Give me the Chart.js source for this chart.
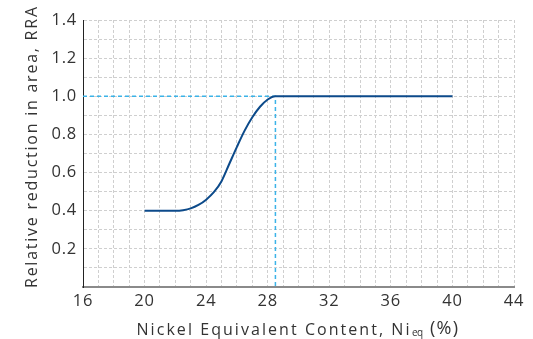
<!DOCTYPE html>
<html>
<head>
<meta charset="utf-8">
<script src="https://cdn.jsdelivr.net/npm/chart.js@4"></script>
<style>
html,body{margin:0;padding:0;background:#fff;}
#wrap{width:533px;height:339px;position:relative;}
</style>
</head>
<body>
<div id="wrap"><canvas id="c" width="533" height="339"></canvas></div>
<script>
// Data
const niEq = [20, 22, 22.5, 23, 23.5, 24, 24.5, 25, 25.5, 26, 26.5, 27, 27.5, 28, 28.5, 40];
const rra  = [0.40, 0.40, 0.403, 0.412, 0.43, 0.458, 0.497, 0.555, 0.645, 0.735, 0.82, 0.89, 0.945, 0.983, 1.0, 1.0];
const refX = [16, 28.5, 28.5];
const refY = [1.0, 1.0, 0.0];
const xTickLabels = [16, 20, 24, 28, 32, 36, 40, 44];
const yTickLabels = [0.2, 0.4, 0.6, 0.8, 1.0, 1.2, 1.4];
const yTitle = "Relative reduction in area, RRA";
const xTitleMain = "Nickel Equivalent Content, Ni";
const xTitleSub = "eq";
const xTitleEnd = "(%)";

const FONT = "'Open Sans', 'Noto Sans', sans-serif";
const TXT = "#333333";

function drawFit(ctx, text, x, y, font, targetW) {
  ctx.font = font;
  ctx.letterSpacing = '0px';
  const w = ctx.measureText(text).width;
  const n = Math.max(1, text.length - 1);
  const sp = (targetW - w) / n;
  ctx.letterSpacing = sp + 'px';
  ctx.fillText(text, x, y);
  ctx.letterSpacing = '0px';
}

const titlePlugin = {
  id: 'titles',
  beforeDraw(chart) {
    chart.ctx.letterSpacing = '0.8px';
  },
  afterDraw(chart) {
    const ctx = chart.ctx;
    ctx.save();
    ctx.fillStyle = TXT;
    ctx.textBaseline = 'alphabetic';
    ctx.textAlign = 'left';
    // y title (rotated): spans y 288 -> 7, baseline at x 37
    ctx.translate(37, 288);
    ctx.rotate(-Math.PI / 2);
    drawFit(ctx, yTitle, 0, 0, "16px " + FONT, 281);
    ctx.restore();

    // x title with subscript
    ctx.save();
    ctx.fillStyle = TXT;
    ctx.textBaseline = 'alphabetic';
    ctx.textAlign = 'left';
    const base = 335;
    drawFit(ctx, xTitleMain, 136.5, base, "16px " + FONT, 273);
    drawFit(ctx, xTitleSub, 412, base + 1, "10px " + FONT, 11);
    drawFit(ctx, xTitleEnd, 430, base - 1, "18px " + FONT, 28);
    ctx.restore();
  }
};

new Chart(document.getElementById('c'), {
  type: 'scatter',
  data: {
    datasets: [
      {
        data: niEq.map((x, i) => ({x: x, y: rra[i]})),
        showLine: true,
        borderColor: '#0c4a8a',
        borderWidth: 2,
        pointRadius: 0,
        cubicInterpolationMode: 'monotone',
        order: 1
      },
      {
        data: refX.map((x, i) => ({x: x, y: refY[i]})),
        showLine: true,
        borderColor: '#3bb3e8',
        borderWidth: 1.5,
        borderDash: [4, 3],
        pointRadius: 0,
        tension: 0,
        order: 2
      }
    ]
  },
  options: {
    responsive: false,
    animation: false,
    events: [],
    layout: { padding: { left: 0, right: 19, top: 20, bottom: 0 } },
    plugins: { legend: { display: false }, tooltip: { enabled: false } },
    scales: {
      x: {
        type: 'linear',
        min: 16, max: 44,
        afterFit(s) { s.height = 52; },
        ticks: {
          stepSize: 1,
          autoSkip: false,
          maxRotation: 0,
          color: TXT,
          font: { family: FONT, size: 16.5 },
          padding: 4,
          callback: (v) => xTickLabels.includes(v) ? String(v) : ''
        },
        grid: {
          color: '#cfcfcf',
          lineWidth: 1,
          drawTicks: false
        },
        border: { display: true, color: '#8a8a8a', width: 2, dash: [3, 2] }
      },
      y: {
        type: 'linear',
        min: 0, max: 1.4,
        afterFit(s) { s.width = 83; },
        ticks: {
          stepSize: 0.1,
          autoSkip: false,
          color: TXT,
          font: { family: FONT, size: 16.5 },
          padding: 6,
          callback: (v) => {
            const r = Math.round(v * 10) / 10;
            return yTickLabels.some(t => Math.abs(t - r) < 1e-6) ? r.toFixed(1) : '';
          }
        },
        grid: {
          color: '#cfcfcf',
          lineWidth: 1,
          drawTicks: false
        },
        border: { display: true, color: '#222', width: 1, dash: [3, 2] }
      }
    }
  },
  plugins: [titlePlugin]
});
</script>
</body>
</html>
